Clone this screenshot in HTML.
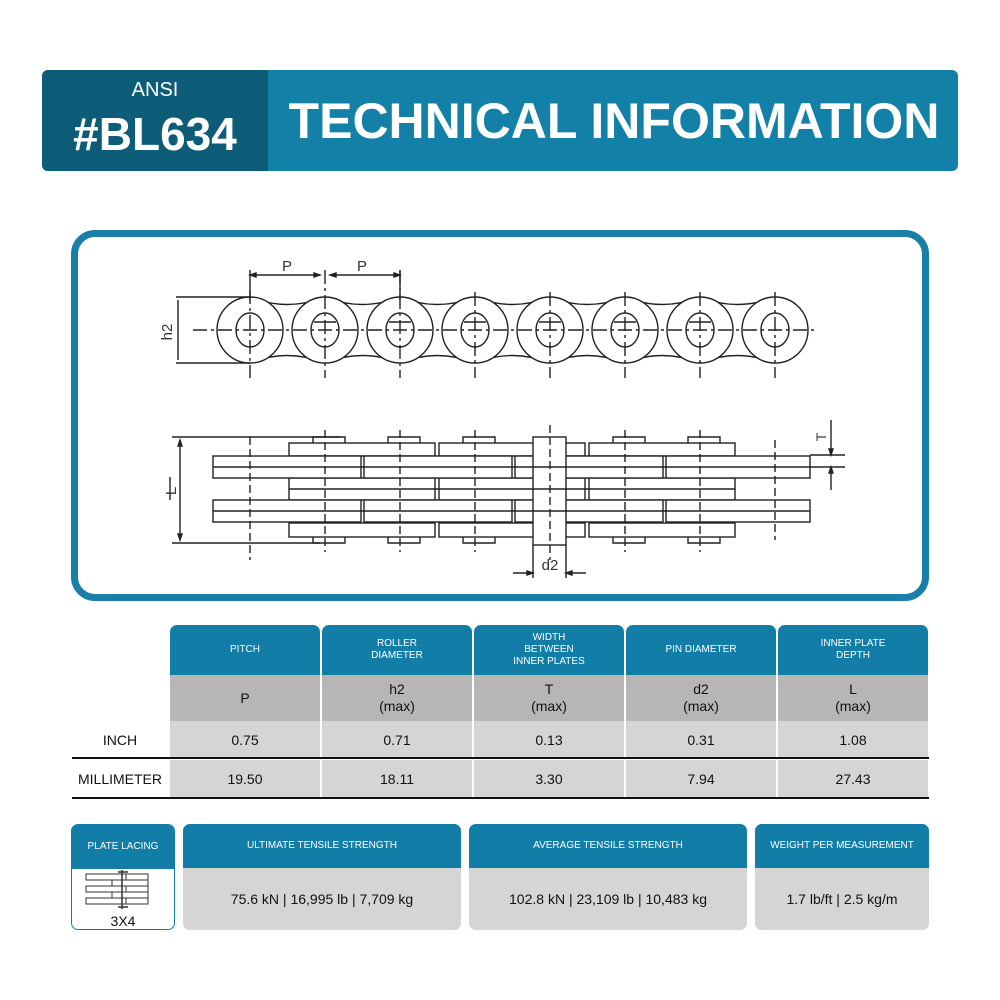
<!DOCTYPE html>
<html><head><meta charset="utf-8"><style>
*{margin:0;padding:0;box-sizing:border-box}
body{width:1000px;height:1000px;background:#fff;position:relative;font-family:"Liberation Sans",Arial,sans-serif;overflow:hidden}
.a{position:absolute}
.c{display:flex;align-items:center;justify-content:center;text-align:center}
.hd{background:#127ea8;color:#fff;font-size:10px;line-height:12px;border-radius:7px 7px 0 0}
.g1{background:#b6b6b6;font-size:14px;line-height:17px;color:#111}
.g2{background:#d5d5d5;font-size:14px;color:#111}
.lbl{font-size:14px;color:#111}
</style></head><body>
<div class="a" style="left:42px;top:70px;width:916px;height:101px;background:#1380a8;border-radius:6px"></div>
<div class="a" style="left:42px;top:70px;width:226px;height:101px;background:#0d5c78;border-radius:6px 0 0 6px"></div>
<div class="a c" style="left:42px;top:78px;width:226px;height:24px;color:#fff;font-size:20px">ANSI</div>
<div class="a c" style="left:42px;top:106px;width:226px;height:56px;color:#fff;font-size:46px;font-weight:bold">#BL634</div>
<div class="a c" style="left:270px;top:88px;width:688px;height:66px;color:#fff;font-size:50px;font-weight:bold">TECHNICAL INFORMATION</div>

<div class="a" style="left:71px;top:230px;width:858px;height:371px;border:7px solid #1a7fa8;border-radius:24px"></div>

<svg class="a" style="left:0;top:0" width="1000" height="620" viewBox="0 0 1000 620" fill="none" stroke="#222" stroke-width="1.4" font-family="Liberation Sans,Arial,sans-serif">
<g>
<path d="M250,297 Q287,312 325,297 M325,297 Q362,312 400,297 M400,297 Q437,312 475,297 M475,297 Q512,312 550,297 M550,297 Q587,312 625,297 M625,297 Q662,312 700,297 M700,297 Q737,312 775,297"/>
<path d="M250,363 Q287,348 325,363 M325,363 Q362,348 400,363 M400,363 Q437,348 475,363 M475,363 Q512,348 550,363 M550,363 Q587,348 625,363 M625,363 Q662,348 700,363 M700,363 Q737,348 775,363"/>
<g fill="#fff">
<circle cx="250" cy="330" r="33"/><circle cx="325" cy="330" r="33"/><circle cx="400" cy="330" r="33"/><circle cx="475" cy="330" r="33"/><circle cx="550" cy="330" r="33"/><circle cx="625" cy="330" r="33"/><circle cx="700" cy="330" r="33"/><circle cx="775" cy="330" r="33"/>
<ellipse cx="250" cy="330" rx="14" ry="17"/><ellipse cx="325" cy="330" rx="14" ry="17"/><ellipse cx="400" cy="330" rx="14" ry="17"/><ellipse cx="475" cy="330" rx="14" ry="17"/><ellipse cx="550" cy="330" rx="14" ry="17"/><ellipse cx="625" cy="330" rx="14" ry="17"/><ellipse cx="700" cy="330" rx="14" ry="17"/><ellipse cx="775" cy="330" rx="14" ry="17"/>
</g>
<path d="M314,322 H336 M389,322 H411 M464,322 H486 M539,322 H561 M614,322 H636 M689,322 H711" />
<path stroke-dasharray="14,4,3,4" d="M193,330 H818 M250,290 V378 M325,270 V378 M400,270 V378 M475,292 V378 M550,292 V378 M625,292 V378 M700,292 V378 M775,292 V378"/>
<path d="M250,275 H320 M330,275 H400 M250,270 V300 M400,270 V300 M176,297 H250 M176,363 H250 M178,300 V360"/>
<path fill="#222" d="M250,275 l6,-2 v4z M320,275 l-6,-2 v4z M330,275 l6,-2 v4z M400,275 l-6,-2 v4z"/>
<text x="287" y="271" font-size="15" fill="#333" stroke="none" text-anchor="middle">P</text>
<text x="362" y="271" font-size="15" fill="#333" stroke="none" text-anchor="middle">P</text>
<text transform="translate(172,332) rotate(-90)" font-size="15" fill="#333" stroke="none" text-anchor="middle">h2</text>
</g>
<g fill="#fff">
<rect x="289" y="443" width="146" height="13"/><rect x="439" y="443" width="146" height="13"/><rect x="589" y="443" width="146" height="13"/>
<rect x="289" y="523" width="146" height="14"/><rect x="439" y="523" width="146" height="14"/><rect x="589" y="523" width="146" height="14"/>
<rect x="289" y="478" width="146" height="22"/><rect x="439" y="478" width="146" height="22"/><rect x="589" y="478" width="146" height="22"/>
<rect x="213" y="456" width="148" height="22"/><rect x="364" y="456" width="148" height="22"/><rect x="515" y="456" width="148" height="22"/><rect x="666" y="456" width="144" height="22"/>
<rect x="213" y="500" width="148" height="22"/><rect x="364" y="500" width="148" height="22"/><rect x="515" y="500" width="148" height="22"/><rect x="666" y="500" width="144" height="22"/>
<rect x="533" y="437" width="33" height="108"/>
</g>
<path d="M213,467 H810 M213,511 H810 M289,489 H735"/>
<path d="M313,443 V437 H345 V443 M388,443 V437 H420 V443 M463,443 V437 H495 V443 M613,443 V437 H645 V443 M688,443 V437 H720 V443 M313,537 V543 H345 V537 M388,537 V543 H420 V537 M463,537 V543 H495 V537 M613,537 V543 H645 V537 M688,537 V543 H720 V537"/>
<path stroke-dasharray="8,4" d="M250,437 V560 M325,430 V552 M400,430 V552 M475,430 V552 M550,425 V560 M625,430 V552 M700,430 V552 M775,440 V540"/>
<path d="M172,437 H340 M172,543 H320 M180,440 V540 M170,477 V500 M810,455 H845 M810,467 H845 M831,420 V452 M831,470 V490 M533,545 V578 M566,545 V578 M513,573 H533 M566,573 H586"/>
<path fill="#222" d="M180,440 l-2,6 h4z M180,540 l-2,-6 h4z M831,455 l-2,-6 h4z M831,467 l-2,6 h4z M533,573 l-6,-2 v4z M566,573 l6,-2 v4z"/>
<text transform="translate(176,491) rotate(-90)" font-size="15" fill="#333" stroke="none" text-anchor="middle">L</text>
<text transform="translate(826,437) rotate(-90)" font-size="14" fill="#333" stroke="none" text-anchor="middle">T</text>
<text x="550" y="570" font-size="15" fill="#333" stroke="none" text-anchor="middle">d2</text>
</svg>

<div class="a c hd" style="left:170px;top:625px;width:150px;height:50px">PITCH</div>
<div class="a c hd" style="left:322px;top:625px;width:150px;height:50px">ROLLER<br>DIAMETER</div>
<div class="a c hd" style="left:474px;top:625px;width:150px;height:50px">WIDTH<br>BETWEEN<br>INNER PLATES</div>
<div class="a c hd" style="left:626px;top:625px;width:150px;height:50px">PIN DIAMETER</div>
<div class="a c hd" style="left:778px;top:625px;width:150px;height:50px">INNER PLATE<br>DEPTH</div>
<div class="a c g1" style="left:170px;top:675px;width:150px;height:46px">P</div>
<div class="a c g1" style="left:322px;top:675px;width:150px;height:46px">h2<br>(max)</div>
<div class="a c g1" style="left:474px;top:675px;width:150px;height:46px">T<br>(max)</div>
<div class="a c g1" style="left:626px;top:675px;width:150px;height:46px">d2<br>(max)</div>
<div class="a c g1" style="left:778px;top:675px;width:150px;height:46px">L<br>(max)</div>
<div class="a c lbl" style="left:72px;top:721px;width:96px;height:37px">INCH</div>
<div class="a c g2" style="left:170px;top:721px;width:150px;height:37px">0.75</div>
<div class="a c g2" style="left:322px;top:721px;width:150px;height:37px">0.71</div>
<div class="a c g2" style="left:474px;top:721px;width:150px;height:37px">0.13</div>
<div class="a c g2" style="left:626px;top:721px;width:150px;height:37px">0.31</div>
<div class="a c g2" style="left:778px;top:721px;width:150px;height:37px">1.08</div>
<div class="a" style="left:72px;top:757px;width:857px;height:2px;background:#111"></div>
<div class="a c lbl" style="left:72px;top:760px;width:96px;height:37px">MILLIMETER</div>
<div class="a c g2" style="left:170px;top:760px;width:150px;height:37px">19.50</div>
<div class="a c g2" style="left:322px;top:760px;width:150px;height:37px">18.11</div>
<div class="a c g2" style="left:474px;top:760px;width:150px;height:37px">3.30</div>
<div class="a c g2" style="left:626px;top:760px;width:150px;height:37px">7.94</div>
<div class="a c g2" style="left:778px;top:760px;width:150px;height:37px">27.43</div>
<div class="a" style="left:72px;top:797px;width:857px;height:2px;background:#111"></div>

<div class="a" style="left:71px;top:824px;width:104px;height:106px;border:1px solid #127ea8;border-radius:7px;overflow:hidden">
<div class="c hd" style="height:44px;border-radius:0">PLATE LACING</div>
<svg width="102" height="45" viewBox="0 0 102 45" fill="#fff" stroke="#333" stroke-width="1">
<rect x="14" y="5" width="40" height="6"/><rect x="14" y="17" width="40" height="6"/><rect x="14" y="29" width="40" height="6"/>
<rect x="40" y="11" width="36" height="6"/><rect x="40" y="23" width="36" height="6"/>
<rect x="54" y="5" width="22" height="6"/><rect x="54" y="17" width="22" height="6"/><rect x="54" y="29" width="22" height="6"/>
<path d="M50,1 V40 M46,3 H56 M46,38 H56" stroke-width="1.5"/>
</svg>
<div class="a c" style="left:0;top:88px;width:102px;height:16px;font-size:14px;color:#111">3X4</div>
</div>
<div class="a" style="left:183px;top:824px;width:278px;height:106px;background:#d5d5d5;border-radius:7px;overflow:hidden"><div class="c hd" style="height:44px;border-radius:0">ULTIMATE TENSILE STRENGTH</div><div class="c" style="height:62px;font-size:14px;color:#111">75.6 kN | 16,995 lb | 7,709 kg</div></div>
<div class="a" style="left:469px;top:824px;width:278px;height:106px;background:#d5d5d5;border-radius:7px;overflow:hidden"><div class="c hd" style="height:44px;border-radius:0">AVERAGE TENSILE STRENGTH</div><div class="c" style="height:62px;font-size:14px;color:#111">102.8 kN | 23,109 lb | 10,483 kg</div></div>
<div class="a" style="left:755px;top:824px;width:174px;height:106px;background:#d5d5d5;border-radius:7px;overflow:hidden"><div class="c hd" style="height:44px;border-radius:0">WEIGHT PER MEASUREMENT</div><div class="c" style="height:62px;font-size:14px;color:#111">1.7 lb/ft | 2.5 kg/m</div></div>
</body></html>
